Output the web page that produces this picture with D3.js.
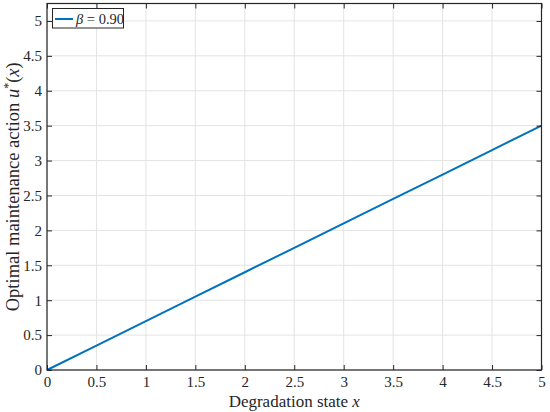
<!DOCTYPE html>
<html><head><meta charset="utf-8">
<script src="https://cdn.jsdelivr.net/npm/d3@7"></script>
<style>body{margin:0;background:#fff}svg{display:block}text{font-family:"Liberation Serif","DejaVu Serif",serif;fill:#262626}</style>
</head><body>
<script>
const xState = [0, 0.5, 1, 1.5, 2, 2.5, 3, 3.5, 4, 4.5, 5];
const uAction = [0, 0.35, 0.70, 1.05, 1.40, 1.75, 2.10, 2.45, 2.80, 3.15, 3.50];
const xTicks = [0, 0.5, 1, 1.5, 2, 2.5, 3, 3.5, 4, 4.5, 5];
const yTicks = [0, 0.5, 1, 1.5, 2, 2.5, 3, 3.5, 4, 4.5, 5];
const legendLabel = "0.90";

const W = 550, H = 412;
const L = 47, R = 541.5, T = 3.5, B = 370;
const svg = d3.select("body").append("svg").attr("width", W).attr("height", H);
const x = d3.scaleLinear().domain([0, 5]).range([L, R]);
const y = d3.scaleLinear().domain([0, 5.25]).range([B, T]);

// grid
svg.append("g").selectAll("line").data(xTicks).join("line")
  .attr("x1", d => x(d)).attr("x2", d => x(d)).attr("y1", T).attr("y2", B)
  .attr("stroke", "#e3e3e3").attr("stroke-width", 1);
svg.append("g").selectAll("line").data(yTicks).join("line")
  .attr("y1", d => y(d)).attr("y2", d => y(d)).attr("x1", L).attr("x2", R)
  .attr("stroke", "#e3e3e3").attr("stroke-width", 1);

// data line
svg.append("path").datum(xState.map((d, i) => [d, uAction[i]]))
  .attr("fill", "none").attr("stroke", "#0072BD").attr("stroke-width", 2)
  .attr("d", d3.line().x(d => x(d[0])).y(d => y(d[1])));

// axes
const ax = (g, axis) => { g.call(axis); g.select(".domain").remove(); g.selectAll("line").attr("stroke", "#262626"); };
const fmt = d3.format("~g");
const xb = svg.append("g").attr("transform", `translate(0,${B})`)
  .call(g => ax(g, d3.axisBottom(x).tickValues(xTicks).tickFormat(fmt).tickSize(-5).tickPadding(6)));
xb.selectAll("text").attr("font-size", 15).attr("dy", "0.72em");
svg.append("g").attr("transform", `translate(0,${T})`)
  .call(g => ax(g, d3.axisTop(x).tickValues(xTicks).tickFormat("").tickSize(-5)));
const yl = svg.append("g").attr("transform", `translate(${L},0)`)
  .call(g => ax(g, d3.axisLeft(y).tickValues(yTicks).tickFormat(fmt).tickSize(-5).tickPadding(5)));
yl.selectAll("text").attr("font-size", 15);
svg.append("g").attr("transform", `translate(${R},0)`)
  .call(g => ax(g, d3.axisRight(y).tickValues(yTicks).tickFormat("").tickSize(-5)));
svg.selectAll(".tick text").style("fill", "#262626");

// frame
svg.append("rect").attr("x", L).attr("y", T).attr("width", R - L).attr("height", B - T)
  .attr("fill", "none").attr("stroke", "#262626").attr("stroke-width", 1.2);

// labels
const xl = svg.append("text").attr("x", (L + R) / 2).attr("y", 407).attr("text-anchor", "middle").attr("font-size", 17);
xl.append("tspan").text("Degradation state ");
xl.append("tspan").attr("font-style", "italic").text("x");

const ylab = svg.append("text").attr("transform", `translate(19,${(T + B) / 2}) rotate(-90)`)
  .attr("text-anchor", "middle").attr("font-size", 18.5);
ylab.append("tspan").text("Optimal maintenance action ");
ylab.append("tspan").attr("font-style", "italic").text("u");
ylab.append("tspan").attr("font-size", 12).attr("dy", -7).text("*");
ylab.append("tspan").attr("dy", 7).text("(");
ylab.append("tspan").attr("font-style", "italic").text("x");
ylab.append("tspan").text(")");

// legend
const lg = svg.append("g");
lg.append("rect").attr("x", 52.5).attr("y", 8.5).attr("width", 71).attr("height", 19.5)
  .attr("fill", "#fff").attr("stroke", "#262626").attr("stroke-width", 1);
lg.append("line").attr("x1", 55).attr("x2", 73).attr("y1", 19).attr("y2", 19)
  .attr("stroke", "#0072BD").attr("stroke-width", 2);
const lt = lg.append("text").attr("x", 76).attr("y", 23.5).attr("font-size", 14.5);
lt.append("tspan").attr("font-style", "italic").text("β");
lt.append("tspan").text(" = " + legendLabel);
</script>
</body></html>
